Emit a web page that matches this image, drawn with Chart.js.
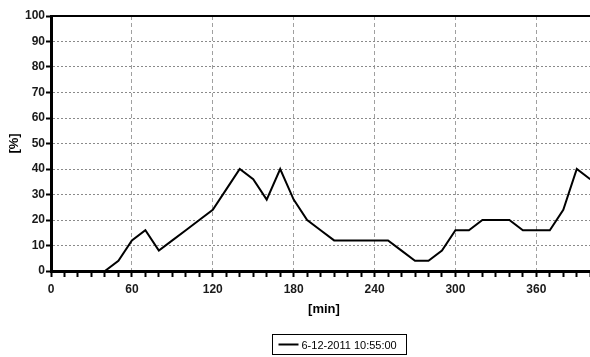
<!DOCTYPE html>
<html>
<head>
<meta charset="utf-8">
<script src="https://cdn.jsdelivr.net/npm/chart.js@4/dist/chart.umd.min.js"></script>
<style>
  html, body { margin: 0; padding: 0; background: #fff; overflow: hidden; }
  #wrap { width: 597px; height: 357px; }
</style>
</head>
<body>
<div id="wrap"><canvas id="c" width="597" height="357"></canvas></div>
<script>
// time since start, minutes
var minutes = [40, 50, 60, 70, 80, 90, 100, 110, 120, 130, 140, 150, 160, 170, 180, 190, 200,
  210, 220, 230, 240, 250, 260, 270, 280, 290, 300, 310, 320, 330, 340, 350, 360, 370, 380, 390, 400];
// load, percent
var percent = [0, 4, 12, 16, 8, 12, 16, 20, 24, 32, 40, 36, 28, 40, 28, 20, 16,
  12, 12, 12, 12, 12, 8, 4, 4, 8, 16, 16, 20, 20, 20, 16, 16, 16, 24, 40, 36];
var seriesLabel = '6-12-2011 10:55:00';
var xTitle = '[min]';
var yTitle = '[%]';

var points = minutes.map(function (m, i) { return {x: m, y: percent[i]}; });

var tickFont = {family: "'Liberation Sans', Arial, sans-serif", size: 12, weight: 'bold'};

var frame = {
    id: 'frame',
    afterDraw: function (chart) {
        var ctx = chart.ctx, a = chart.chartArea;
        ctx.save();
        // top border
        ctx.strokeStyle = '#000';
        ctx.lineWidth = 2;
        ctx.beginPath();
        ctx.moveTo(a.left, a.top);
        ctx.lineTo(a.right, a.top);
        ctx.stroke();

        // legend box
        var bx = 272.5, by = 334.5, bw = 134, bh = 20;
        ctx.lineWidth = 1;
        ctx.strokeRect(bx, by, bw, bh);
        ctx.lineWidth = 2;
        ctx.beginPath();
        ctx.moveTo(bx + 6, by + bh / 2);
        ctx.lineTo(bx + 26, by + bh / 2);
        ctx.stroke();
        ctx.fillStyle = '#000';
        ctx.font = "11px 'Liberation Sans', Arial, sans-serif";
        ctx.textBaseline = 'middle';
        ctx.fillText(chart.data.datasets[0].label, bx + 29, by + bh / 2 + 1);
        ctx.restore();
    }
};

new Chart(document.getElementById('c'), {
    type: 'line',
    data: {
        datasets: [{
            label: seriesLabel,
            data: points,
            borderColor: '#000',
            borderWidth: 2,
            pointRadius: 0,
            tension: 0,
            fill: false
        }]
    },
    options: {
        responsive: false,
        animation: false,
        layout: {padding: {left: 0, top: 16, right: 0, bottom: 40}},
        plugins: {legend: {display: false}, tooltip: {enabled: false}},
        scales: {
            x: {
                type: 'linear',
                min: 0,
                max: 405,
                afterFit: function (s) { s.height = 46; },
                afterBuildTicks: function (s) {
                    var t = [];
                    for (var v = 0; v <= 400; v += 10) t.push({value: v});
                    s.ticks = t;
                },
                ticks: {
                    autoSkip: false,
                    maxRotation: 0,
                    padding: 5,
                    color: '#1a1a1a',
                    font: tickFont,
                    callback: function (v) { return v % 60 === 0 ? String(v) : ''; }
                },
                grid: {
                    color: function (c) {
                        var v = c.tick && c.tick.value;
                        return (v && v % 60 === 0) ? '#a0a0a0' : 'rgba(0,0,0,0)';
                    },
                    lineWidth: 1,
                    tickColor: '#000',
                    tickLength: 6,
                    tickWidth: 2
                },
                border: {color: '#000', width: 3, dash: [4, 3]},
                title: {display: true, text: xTitle, color: '#000',
                    font: {family: tickFont.family, size: 13, weight: 'bold'}, padding: {top: 0, bottom: 0}}
            },
            y: {
                min: 0,
                max: 100,
                afterFit: function (s) { s.width = 51; },
                ticks: {stepSize: 10, padding: 1, color: '#1a1a1a', font: tickFont},
                grid: {
                    color: function (c) {
                        var v = c.tick && c.tick.value;
                        return (v > 0 && v < 100) ? '#8a8a8a' : 'rgba(0,0,0,0)';
                    },
                    lineWidth: 1,
                    tickColor: '#000',
                    tickLength: 5,
                    tickWidth: 2
                },
                border: {color: '#000', width: 3, dash: [2, 2]},
                title: {display: true, text: yTitle, color: '#000',
                    font: {family: tickFont.family, size: 13, weight: 'bold'}, padding: {top: 7, bottom: 0}}
            }
        }
    },
    plugins: [frame]
});
</script>
</body>
</html>
